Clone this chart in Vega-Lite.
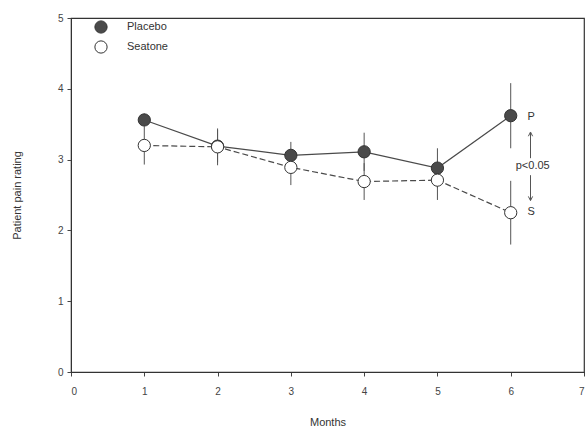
{
  "$schema": "https://vega.github.io/schema/vega-lite/v6.json",
  "width": 513,
  "height": 354,
  "autosize": {"type": "none"},
  "padding": {"left": 71, "top": 18, "right": 3, "bottom": 58},
  "background": "white",
  "config": {
    "font": "Liberation Sans",
    "view": {"stroke": "#333", "strokeWidth": 1.2},
    "axis": {
      "grid": false,
      "domainColor": "#333",
      "tickColor": "#444",
      "labelColor": "#444",
      "titleColor": "#333",
      "labelFont": "Liberation Sans",
      "titleFont": "Liberation Sans",
      "labelFontSize": 10,
      "titleFontSize": 11,
      "titleFontWeight": "normal",
      "tickSize": 4
    }
  },
  "datasets": {
    "pain": [
      {"month": 1, "series": "Placebo", "rating": 3.56, "err": 0.09},
      {"month": 2, "series": "Placebo", "rating": 3.19, "err": 0.23},
      {"month": 3, "series": "Placebo", "rating": 3.06, "err": 0.19},
      {"month": 4, "series": "Placebo", "rating": 3.11, "err": 0.27},
      {"month": 5, "series": "Placebo", "rating": 2.88, "err": 0.28},
      {"month": 6, "series": "Placebo", "rating": 3.62, "err": 0.46},
      {"month": 1, "series": "Seatone", "rating": 3.2, "err": 0.27},
      {"month": 2, "series": "Seatone", "rating": 3.18, "err": 0.26},
      {"month": 3, "series": "Seatone", "rating": 2.89, "err": 0.25},
      {"month": 4, "series": "Seatone", "rating": 2.69, "err": 0.26},
      {"month": 5, "series": "Seatone", "rating": 2.71, "err": 0.28},
      {"month": 6, "series": "Seatone", "rating": 2.25, "err": 0.45}
    ],
    "notes": [
      {"x": 6.28, "y": 3.6, "label": "P"},
      {"x": 6.28, "y": 2.26, "label": "S"},
      {"x": 6.3, "y": 2.91, "label": "p<0.05"}
    ],
    "arrows": [
      {"x": 6.27, "y1": 3.02, "y2": 3.38},
      {"x": 6.27, "y1": 2.43, "y2": 2.78}
    ],
    "heads": [
      {"x": 6.27, "y": 3.36, "dir": "up"},
      {"x": 6.27, "y": 2.45, "dir": "down"}
    ]
  },
  "layer": [
    {
      "data": {"name": "pain"},
      "mark": {"type": "errorbar", "color": "#555", "thickness": 1},
      "encoding": {
        "x": {"field": "month", "type": "quantitative", "title": "Months"},
        "y": {"field": "rating", "type": "quantitative", "title": "Patient pain rating"},
        "yError": {"field": "err"}
      }
    },
    {
      "data": {"name": "pain"},
      "transform": [{"filter": "datum.series === 'Placebo'"}],
      "mark": {"type": "line", "color": "#4a4a4a", "strokeWidth": 1.2},
      "encoding": {
        "x": {
          "field": "month", "type": "quantitative", "title": "Months",
          "scale": {"domain": [0, 7], "nice": false},
          "axis": {"values": [0, 1, 2, 3, 4, 5, 6, 7], "format": "d", "labelPadding": 10, "titlePadding": 20}
        },
        "y": {
          "field": "rating", "type": "quantitative", "title": "Patient pain rating",
          "scale": {"domain": [0, 5], "nice": false},
          "axis": {"values": [0, 1, 2, 3, 4, 5], "format": "d", "labelPadding": 4, "titlePadding": 35}
        }
      }
    },
    {
      "data": {"name": "pain"},
      "transform": [{"filter": "datum.series === 'Seatone'"}],
      "mark": {"type": "line", "color": "#4a4a4a", "strokeWidth": 1.2, "strokeDash": [6, 3]},
      "encoding": {
        "x": {"field": "month", "type": "quantitative", "title": "Months"},
        "y": {"field": "rating", "type": "quantitative", "title": "Patient pain rating"}
      }
    },
    {
      "data": {"name": "pain"},
      "mark": {"type": "point", "shape": "circle", "size": 150, "filled": true, "stroke": "#333", "strokeWidth": 1, "opacity": 1},
      "encoding": {
        "x": {"field": "month", "type": "quantitative", "title": "Months"},
        "y": {"field": "rating", "type": "quantitative", "title": "Patient pain rating"},
        "fill": {
          "field": "series", "type": "nominal",
          "scale": {"domain": ["Placebo", "Seatone"], "range": ["#4a4a4a", "#ffffff"]},
          "legend": {
            "title": null,
            "orient": "none",
            "legendX": 23,
            "legendY": 2,
            "symbolType": "circle",
            "symbolSize": 150,
            "symbolStrokeColor": "#333",
            "symbolStrokeWidth": 1,
            "symbolOpacity": 1,
            "labelFontSize": 11,
            "labelColor": "#333",
            "labelOffset": 19,
            "rowPadding": 2
          }
        }
      }
    },
    {
      "data": {"name": "arrows"},
      "mark": {"type": "rule", "color": "#555", "strokeWidth": 1},
      "encoding": {
        "x": {"field": "x", "type": "quantitative"},
        "y": {"field": "y1", "type": "quantitative"},
        "y2": {"field": "y2"}
      }
    },
    {
      "data": {"name": "heads"},
      "mark": {"type": "point", "filled": false, "size": 18, "strokeWidth": 1, "color": "#555", "opacity": 1},
      "encoding": {
        "x": {"field": "x", "type": "quantitative"},
        "y": {"field": "y", "type": "quantitative"},
        "shape": {
          "field": "dir", "type": "nominal",
          "scale": {"domain": ["up", "down"], "range": ["M-1,1L0,-1L1,1", "M-1,-1L0,1L1,-1"]},
          "legend": null
        }
      }
    },
    {
      "data": {"name": "notes"},
      "mark": {"type": "text", "fontSize": 11, "color": "#333", "align": "center", "baseline": "middle"},
      "encoding": {
        "x": {"field": "x", "type": "quantitative"},
        "y": {"field": "y", "type": "quantitative"},
        "text": {"field": "label"}
      }
    }
  ]
}
